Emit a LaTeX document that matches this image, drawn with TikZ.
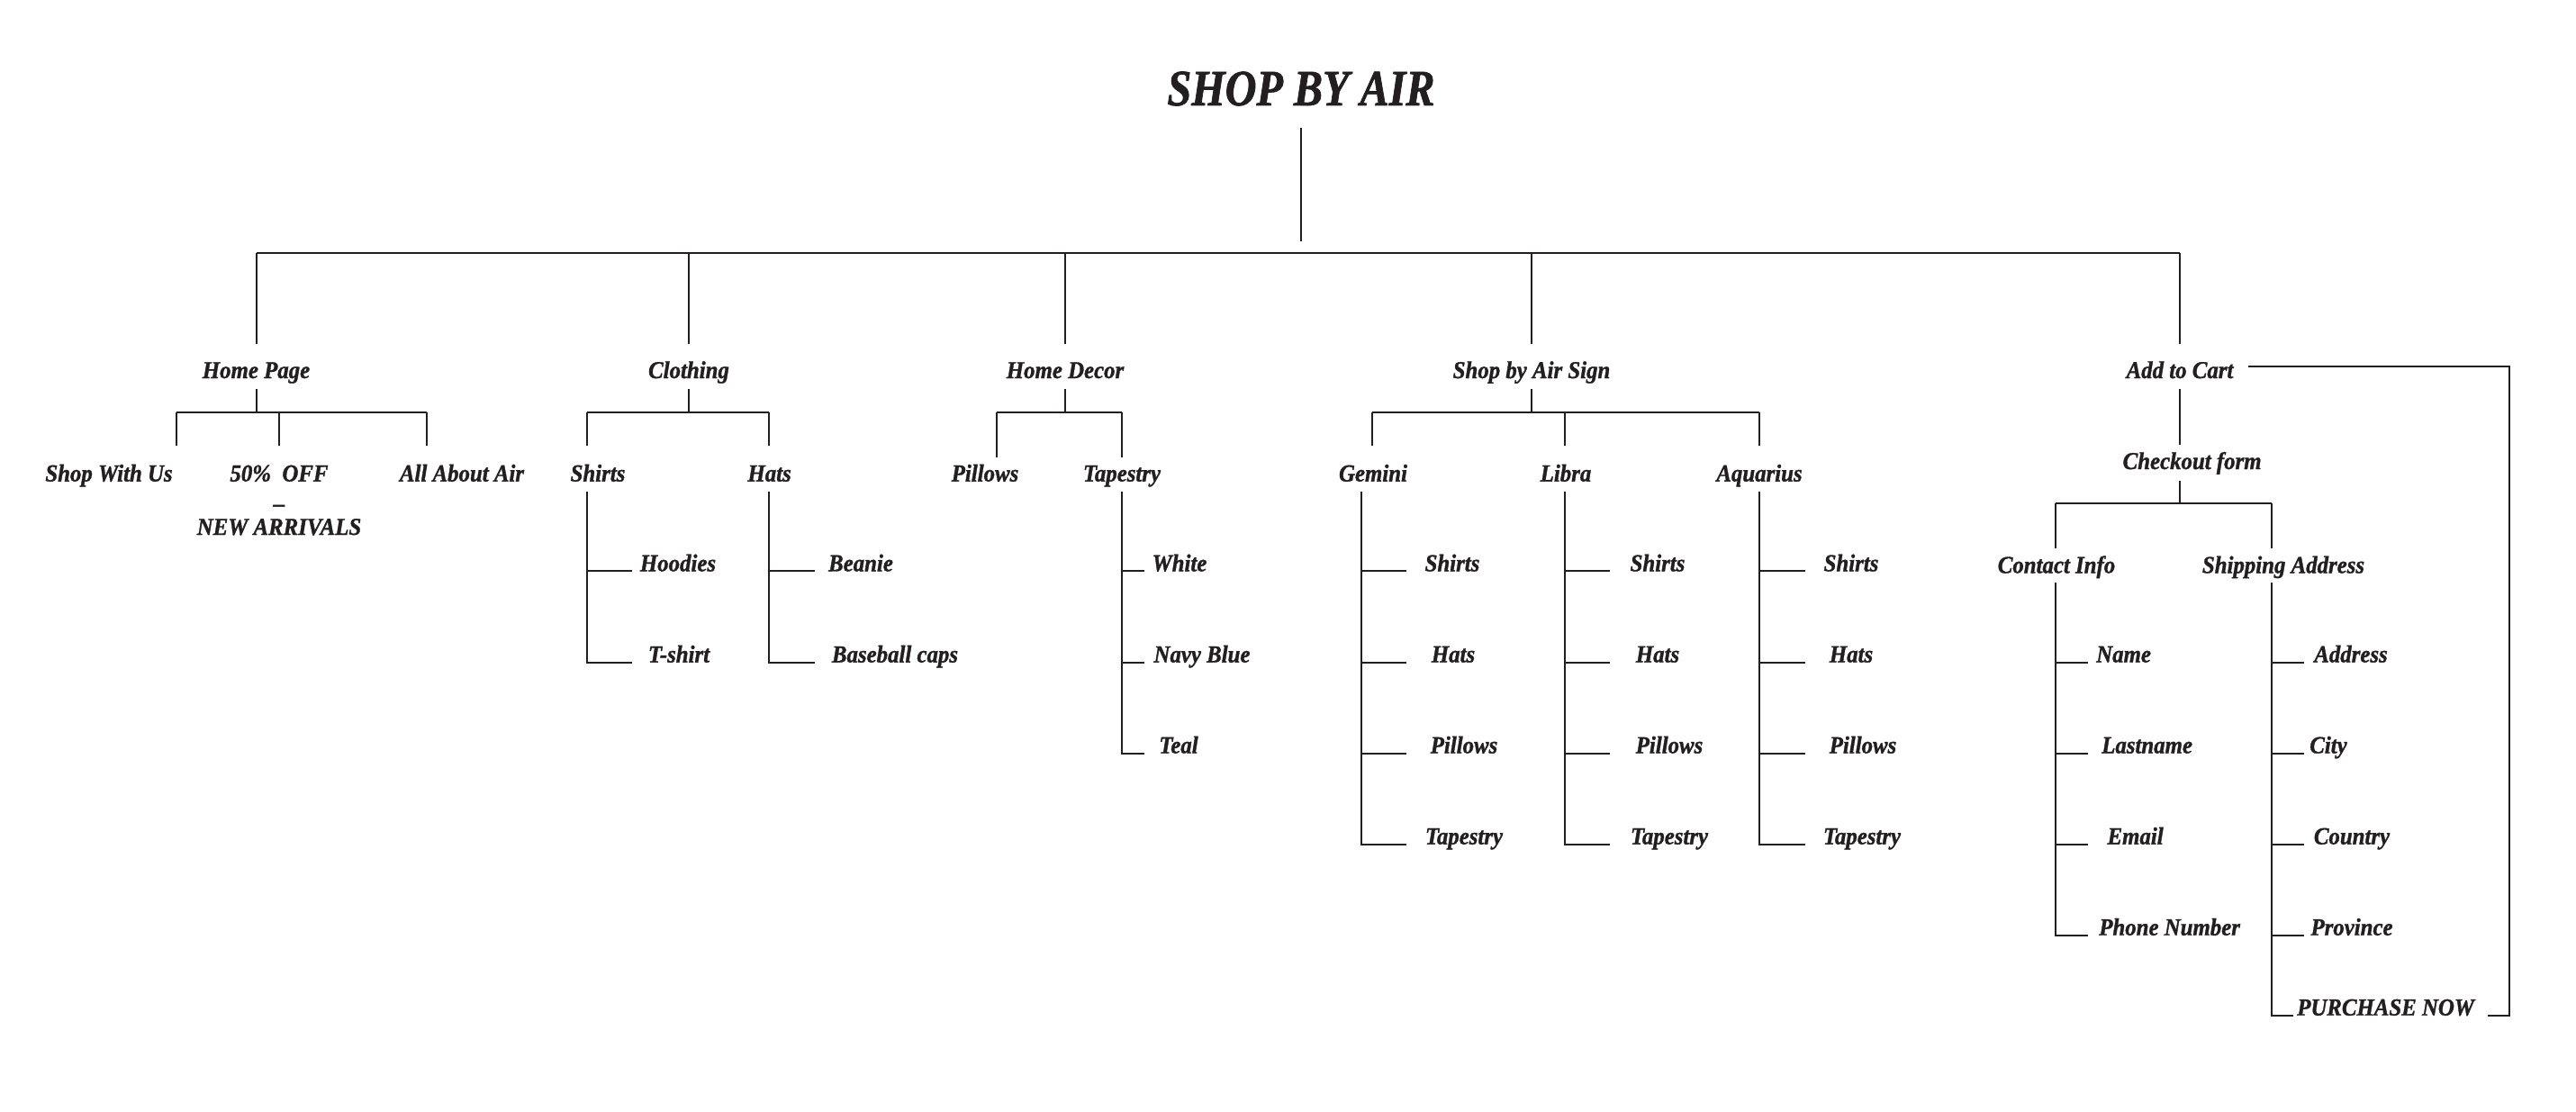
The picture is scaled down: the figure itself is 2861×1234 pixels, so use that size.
\documentclass[tikz,border=0pt]{standalone}
\usepackage{fontspec}
\newfontfamily\lblfont{Liberation Serif}[FakeStretch=0.92,FakeBold=1.2]
\newfontfamily\ttlfont{Liberation Serif}[FakeStretch=0.85,FakeBold=1.2]
\definecolor{ink}{HTML}{231F20}
\tikzset{
  lbl/.style={font=\lblfont\bfseries\itshape\fontsize{8.1}{9.7}\selectfont, text=ink,
    inner sep=0pt, outer sep=0pt, text height=5.4pt, text depth=0pt, anchor=base},
  ttl/.style={font=\ttlfont\bfseries\itshape\fontsize{17}{20}\selectfont, text=ink,
    inner sep=0pt, outer sep=0pt, text height=11.3pt, text depth=0pt, anchor=base},
  ln/.style={draw=ink, line width=0.6pt},
  gapA/.style={shorten >=6.5pt},
  gapB/.style={shorten >=2.7pt},
}
\begin{document}
\begin{tikzpicture}[x=0.3pt,y=-0.3pt]
\fill[white] (0,0) rectangle (2861,1234);
\useasboundingbox (0,0) rectangle (2861,1234);

% ---------- title ----------
\node[ttl] (root) at (1445,117) {SHOP BY AIR};
\coordinate (tEnd) at (1445,268);
\draw[ln] ([yshift=-7.4pt]root.south) -- (tEnd);

% ---------- level 1 ----------
\node[lbl] (hp)  at (284.5,420) {Home Page};
\node[lbl] (cl)  at (765,420)   {Clothing};
\node[lbl] (hd)  at (1183,420)  {Home Decor};
\node[lbl] (sas) at (1701,420)  {Shop by Air Sign};
\node[lbl] (atc) at (2421,420)  {Add to Cart};

\coordinate (b0) at (284.5,280.7);
\coordinate (b4) at (2421,280.7);
\draw[ln,line width=0.7pt] (b0) -- (b4);
\foreach \n in {hp,cl,hd,sas,atc}{
  \draw[ln] (\n.north |- b0) -- ([yshift=6.1pt]\n.north);
}

% ---------- level 2 ----------
\node[lbl] (sw)     at (121,534.6)  {Shop With Us};
\node[lbl] (off)    at (310,534.6)  {50\%\ \ OFF};
\node[lbl] (dash)   at (310,568)    {–};
\node[lbl] (na)     at (310,594)    {NEW ARRIVALS};
\node[lbl] (aaa)    at (513,534.6)  {All About Air};
\node[lbl] (shirts) at (664,534.6)  {Shirts};
\node[lbl] (hats)   at (854.6,534.6){Hats};
\node[lbl] (pil)    at (1094,534.6) {Pillows};
\node[lbl] (tap)    at (1246,534.6) {Tapestry};
\node[lbl] (gem)    at (1525,534.6) {Gemini};
\node[lbl] (lib)    at (1739,534.6) {Libra};
\node[lbl] (aqu)    at (1954,534.6) {Aquarius};
\node[lbl] (co)     at (2434.6,521) {Checkout form};

% Home Page
\coordinate (hpL) at (196,457.5);
\coordinate (hpM) at (310,457.5);
\coordinate (hpR) at (474,457.5);
\draw[ln] ([yshift=-3.6pt]hp.south) -- (hp.south |- hpL);
\draw[ln] (hpL) -- (hpR);
\draw[ln,gapA] (hpL) -- (hpL |- sw.north);
\draw[ln,gapA] (hpM) -- (hpM |- off.north);
\draw[ln,gapA] (hpR) -- (hpR |- aaa.north);

% Clothing
\coordinate (clL) at (652,457.5);
\coordinate (clR) at (853.6,457.5);
\draw[ln] ([yshift=-3.6pt]cl.south) -- (cl.south |- clL);
\draw[ln] (clL) -- (clR);
\draw[ln,gapA] (clL) -- (clL |- shirts.north);
\draw[ln,gapA] (clR) -- (clR |- hats.north);

% Home Decor
\coordinate (hdL) at (1107,457.5);
\coordinate (hdR) at (1246,457.5);
\draw[ln] ([yshift=-3.6pt]hd.south) -- (hd.south |- hdL);
\draw[ln] (hdL) -- (hdR);
\draw[ln,shorten >=2.6pt] (hdL) -- (hdL |- pil.north);
\draw[ln,shorten >=2.6pt] (hdR) -- (hdR |- tap.north);

% Shop by Air Sign
\coordinate (sgL) at (1524,457.5);
\coordinate (sgM) at (1738,457.5);
\coordinate (sgR) at (1953.5,457.5);
\draw[ln] ([yshift=-3.6pt]sas.south) -- (sas.south |- sgL);
\draw[ln] (sgL) -- (sgR);
\draw[ln,gapA] (sgL) -- (sgL |- gem.north);
\draw[ln,gapA] (sgM) -- (sgM |- lib.north);
\draw[ln,gapA] (sgR) -- (sgR |- aqu.north);

% Add to Cart -> Checkout
\draw[ln,shorten >=2.7pt] ([yshift=-3.6pt]atc.south) -- (atc.south |- co.north);

% ---------- level 3 ----------
\node[lbl] (ci) at (2284,636.4) {Contact Info};
\node[lbl] (sa) at (2536,636.4) {Shipping Address};
\coordinate (coB) at (2421,558.7);
\coordinate (ciL) at (2282.7,558.7);
\coordinate (saR) at (2522.5,558.7);
\draw[ln,shorten >=3.9pt] (coB) -- (coB |- co.south);
\draw[ln] (ciL) -- (saR);
\draw[ln,gapB] (ciL) -- (ciL |- ci.north);
\draw[ln,gapB] (saR) -- (saR |- sa.north);

% ---------- leaves: Clothing ----------
\node[lbl] (hood) at (753,634.4)  {Hoodies};
\node[lbl] (tsh)  at (754,735.6)  {T-shirt};
\node[lbl] (bean) at (956,634.4)  {Beanie};
\node[lbl] (bcap) at (994,735.6)  {Baseball caps};
\coordinate (shV) at (652,545.7);
\coordinate (htV) at (853.7,545.7);
\draw[ln] (shV) -- (shV |- tsh.base) -- ++(50,0);
\draw[ln] (shV |- hood.base) -- ++(50,0);
\draw[ln] (htV) -- (htV |- bcap.base) -- ++(51,0);
\draw[ln] (htV |- bean.base) -- ++(51,0);

% ---------- leaves: Tapestry ----------
\node[lbl] (wht)  at (1310,634.4) {White};
\node[lbl] (navy) at (1335,735.6) {Navy Blue};
\node[lbl] (teal) at (1309,836.5) {Teal};
\coordinate (tpV) at (1246,545.7);
\draw[ln] (tpV) -- (tpV |- teal.base) -- ++(25,0);
\draw[ln] (tpV |- wht.base) -- ++(25,0);
\draw[ln] (tpV |- navy.base) -- ++(25,0);

% ---------- leaves: signs ----------
\node[lbl] (g1) at (1613,634.4) {Shirts};
\node[lbl] (g2) at (1614,735.5) {Hats};
\node[lbl] (g3) at (1626,836.5) {Pillows};
\node[lbl] (g4) at (1626,937.6) {Tapestry};
\node[lbl] (l1) at (1841,634.4) {Shirts};
\node[lbl] (l2) at (1841,735.5) {Hats};
\node[lbl] (l3) at (1854,836.5) {Pillows};
\node[lbl] (l4) at (1854,937.6) {Tapestry};
\node[lbl] (a1) at (2056,634.4) {Shirts};
\node[lbl] (a2) at (2056,735.5) {Hats};
\node[lbl] (a3) at (2069,836.5) {Pillows};
\node[lbl] (a4) at (2068,937.6) {Tapestry};
\coordinate (gV) at (1512,545.7);
\coordinate (lV) at (1738,545.7);
\coordinate (aV) at (1953.5,545.7);
\draw[ln] (gV) -- (gV |- g4.base) -- ++(50,0);
\draw[ln] (lV) -- (lV |- l4.base) -- ++(50,0);
\draw[ln] (aV) -- (aV |- a4.base) -- ++(51,0);
\foreach \n in {g1,g2,g3}{\draw[ln] (gV |- \n.base) -- ++(50,0);}
\foreach \n in {l1,l2,l3}{\draw[ln] (lV |- \n.base) -- ++(50,0);}
\foreach \n in {a1,a2,a3}{\draw[ln] (aV |- \n.base) -- ++(51,0);}

% ---------- leaves: checkout ----------
\node[lbl] (nm)  at (2358.6,735.5)  {Name};
\node[lbl] (lnm) at (2384.6,836.5)  {Lastname};
\node[lbl] (em)  at (2371.6,937.6)  {Email};
\node[lbl] (ph)  at (2409.6,1038.7) {Phone Number};
\node[lbl] (ad)  at (2611,735.5)    {Address};
\node[lbl] (cty) at (2586,836.5)    {City};
\node[lbl] (cnt) at (2612,937.6)    {Country};
\node[lbl] (prv) at (2612,1038.7)   {Province};
\node[lbl] (pn)  at (2649.6,1127.7) {PURCHASE NOW};
\coordinate (ciV) at (2282.7,647);
\coordinate (saV) at (2522.5,647);
\draw[ln] (ciV) -- (ciV |- ph.base) -- ++(36.3,0);
\foreach \n in {nm,lnm,em}{\draw[ln] (ciV |- \n.base) -- ++(36.3,0);}
\draw[ln] (saV) -- (saV |- pn.base) -- ++(24.5,0);
\foreach \n in {ad,cty,cnt,prv}{\draw[ln] (saV |- \n.base) -- ++(36.5,0);}

% ---------- loop back from Add to Cart ----------
\coordinate (lp0) at (2497,406.5);
\coordinate (lp1) at (2787,1127.7);
\coordinate (lp2) at (2763,1127.7);
\draw[ln] (lp0) -| (lp1) -- (lp2);
\end{tikzpicture}
\end{document}
